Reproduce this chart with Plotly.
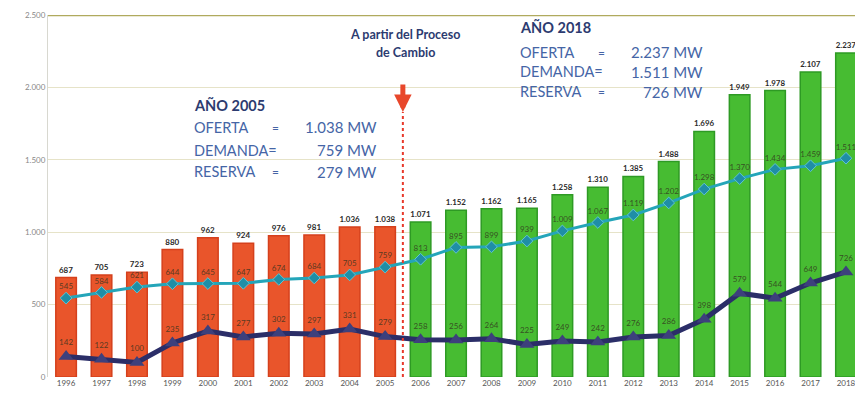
import plotly.graph_objects as go

years = list(range(1996, 2019))
oferta = [687, 705, 723, 880, 962, 924, 976, 981, 1036, 1038, 1071, 1152, 1162, 1165,
          1258, 1310, 1385, 1488, 1696, 1949, 1978, 2107, 2237]
demanda = [545, 584, 621, 644, 645, 647, 674, 684, 705, 759, 813, 895, 899, 939,
           1009, 1067, 1119, 1202, 1298, 1370, 1434, 1459, 1511]
reserva = [142, 122, 100, 235, 317, 277, 302, 297, 331, 279, 258, 256, 264, 225,
           249, 242, 276, 286, 398, 579, 544, 649, 726]
y_ticks = [0, 500, 1000, 1500, 2000, 2500]
change_year = 2005


def fmt(v):
    return f"{v:,}".replace(",", ".")


FONT = "Lato, 'Open Sans', sans-serif"
BLUE = "#4565A6"
NAVY = "#2C3B70"

# plot area in window pixels (page body has an 8px margin)
L, R, T, B = 48, 863, 15, 377
OFF = 8


def px(x):
    return (x - L) / (R - L)


def py(y):
    return (B - y) / (B - T)


bar_colors = ["#E9552B" if y <= change_year else "#47BC32" for y in years]
bar_lines = ["#D5401C" if y <= change_year else "#2E9A24" for y in years]

fig = go.Figure()

fig.add_trace(go.Bar(
    x=years, y=oferta, width=0.58,
    marker=dict(color=bar_colors, line=dict(color=bar_lines, width=1.5)),
    text=[f"<b>{fmt(v)}</b>" for v in oferta],
    textposition="outside",
    textfont=dict(size=8, color="#2a2a2a", family=FONT),
    cliponaxis=False,
    showlegend=False
))

fig.add_trace(go.Scatter(
    x=years, y=demanda, mode="lines+markers+text",
    line=dict(color="#24A5B9", width=3),
    marker=dict(symbol="diamond", size=9, color="#1F8EA6",
                line=dict(color="#5FC4D2", width=1)),
    text=[fmt(v) for v in demanda],
    textposition="top center",
    textfont=dict(size=8, color="rgba(50,50,30,0.8)", family=FONT),
    cliponaxis=False,
    showlegend=False
))

fig.add_trace(go.Scatter(
    x=years, y=reserva, mode="lines+markers+text",
    line=dict(color="#2B2E68", width=5),
    marker=dict(symbol="triangle-up", size=13, color="#3D407C"),
    text=[fmt(v) for v in reserva],
    textposition="top center",
    textfont=dict(size=8, color="rgba(50,50,30,0.8)", family=FONT),
    cliponaxis=False,
    showlegend=False
))

# dashed separator and arrow
fig.add_shape(type="line", x0=change_year + 0.5, x1=change_year + 0.5, y0=0, y1=1830,
              line=dict(color="#E8392B", width=2, dash="dot"))
fig.add_annotation(x=change_year + 0.5, y=1830, ax=change_year + 0.5, ay=2030,
                   xref="x", yref="y", axref="x", ayref="y", text="",
                   showarrow=True, arrowhead=2, arrowsize=0.7, arrowwidth=5,
                   arrowcolor="#E8472B")

annotations = [
    dict(x=px(405), y=py(35), text="<b>A partir del Proceso</b>", xanchor="center",
         font=dict(size=12.5, color=NAVY)),
    dict(x=px(405), y=py(53), text="<b>de Cambio</b>", xanchor="center",
         font=dict(size=12.5, color=NAVY)),
]


def info_block(x_left, y_title, row_y, year, values):
    rows = [("OFERTA", "="), ("DEMANDA=", ""), ("RESERVA", "=")]
    out = [dict(x=px(x_left), y=py(y_title), text=f"<b>AÑO {year}</b>", xanchor="left",
                font=dict(size=14.5, color=NAVY))]
    for (lab, eq), val, yrow in zip(rows, values, row_y):
        yy = py(yrow)
        out.append(dict(x=px(x_left), y=yy, text=lab, xanchor="left",
                        font=dict(size=14.5, color=BLUE)))
        if eq:
            out.append(dict(x=px(x_left + 83), y=yy, text=eq, xanchor="center",
                            font=dict(size=12, color=BLUE)))
        out.append(dict(x=px(x_left + 187), y=yy, text=f"{fmt(val)} MW", xanchor="right",
                        font=dict(size=15, color=BLUE)))
    return out


i05 = years.index(2005)
i18 = years.index(2018)
annotations += info_block(192, 105, [127, 150, 172], 2005,
                          [oferta[i05], demanda[i05], reserva[i05]])
annotations += info_block(518, 27, [52, 72, 92], 2018,
                          [oferta[i18], demanda[i18], reserva[i18]])

for a in annotations:
    a.update(xref="paper", yref="paper", yanchor="middle", showarrow=False)
    a["font"]["family"] = FONT
    fig.add_annotation(**a)

fig.update_layout(
    width=863 - OFF, height=402 - OFF,
    margin=dict(l=L - OFF, r=0, t=T - OFF, b=402 - B),
    paper_bgcolor="white", plot_bgcolor="white",
    separators=",.",
    font=dict(family=FONT),
    xaxis=dict(
        range=[1995.49, 2018.48], tickvals=years, ticktext=[str(y) for y in years],
        tickfont=dict(size=8, color="#555555"), showgrid=False, zeroline=False,
        ticks="", showline=False
    ),
    yaxis=dict(
        range=[0, 2500], tickvals=y_ticks, ticktext=[fmt(v) for v in y_ticks],
        tickfont=dict(size=8, color="#888888"), gridcolor="#E6E3C8", gridwidth=1,
        zeroline=False, showline=True, linecolor="#D8D8D0", linewidth=1, ticks=""
    ),
)
fig.add_shape(type="line", xref="paper", yref="y", x0=0, x1=1, y0=2498, y1=2498,
              line=dict(color="#B0AA5E", width=2), layer="above")

fig.write_html("out.html")
